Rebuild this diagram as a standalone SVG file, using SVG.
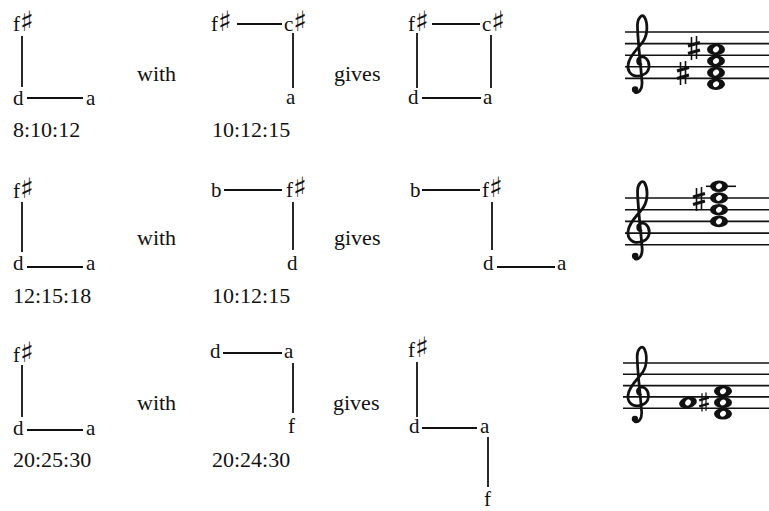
<svg xmlns="http://www.w3.org/2000/svg" xmlns:xlink="http://www.w3.org/1999/xlink" width="769" height="511" viewBox="0 0 769 511">
<style>
.n{font-family:"Liberation Serif","DejaVu Serif",serif;font-size:21px;fill:#111}
.s{font-family:"DejaVu Sans",sans-serif;font-size:28px;font-weight:bold;fill:#111}
.w{font-family:"Liberation Serif","DejaVu Serif",serif;font-size:22px;fill:#111}
.c line{stroke:#111;stroke-width:1.8}
.st line{stroke:#111;stroke-width:1.6}
</style>
<defs>
<g id="clef">
<path d="M12 28 C9 28 8 24 11 22 C15 20 19 24 19 29 C19 35 14 38 9 38 C3 38 0 33 1 28 C2 20 10 14 14 8 C18 2 18 -8 15 -13 C13 -16 9 -12 9 -6 C9 5 12 30 13 44 C13 50 10 53 7 52" fill="none" stroke="#111" stroke-width="2.4" stroke-linecap="round"/>
<circle cx="7" cy="49.5" r="2.8" fill="#111"/>
</g>
<g id="whole">
<ellipse cx="0" cy="0" rx="9" ry="5.8" fill="#111"/>
<ellipse cx="0" cy="0" rx="3.2" ry="2.6" transform="rotate(-40)" fill="#fff"/>
</g>
<g id="sharp">
<line x1="-2.5" y1="-11" x2="-2.5" y2="12" stroke="#111" stroke-width="1.6"/>
<line x1="2.5" y1="-12" x2="2.5" y2="11" stroke="#111" stroke-width="1.6"/>
<line x1="-6" y1="-2" x2="6" y2="-5.5" stroke="#111" stroke-width="3"/>
<line x1="-6" y1="5.5" x2="6" y2="2" stroke="#111" stroke-width="3"/>
</g>
</defs>
<rect width="769" height="511" fill="#fff"/>

<g id="connectors" class="c">
<!-- row 1 -->
<line x1="22" y1="36" x2="22" y2="87"/>
<line x1="27" y1="98" x2="83" y2="98"/>
<line x1="237" y1="24" x2="282" y2="24"/>
<line x1="293" y1="33" x2="293" y2="88"/>
<line x1="432" y1="24" x2="480" y2="24"/>
<line x1="417" y1="33" x2="417" y2="88"/>
<line x1="491" y1="35" x2="491" y2="88"/>
<line x1="422" y1="98" x2="481" y2="98"/>
<!-- row 2 -->
<line x1="22" y1="202" x2="22" y2="252"/>
<line x1="27" y1="267" x2="83" y2="267"/>
<line x1="224" y1="190" x2="282" y2="190"/>
<line x1="293" y1="202" x2="293" y2="250"/>
<line x1="422" y1="190" x2="480" y2="190"/>
<line x1="492" y1="202" x2="492" y2="250"/>
<line x1="497" y1="267" x2="555" y2="267"/>
<!-- row 3 -->
<line x1="22" y1="365" x2="22" y2="417"/>
<line x1="27" y1="430" x2="83" y2="430"/>
<line x1="223" y1="353" x2="282" y2="353"/>
<line x1="293" y1="363" x2="293" y2="413"/>
<line x1="417" y1="362" x2="417" y2="417"/>
<line x1="422" y1="428" x2="477" y2="428"/>
<line x1="488" y1="437" x2="488" y2="487"/>
</g>

<!-- row 1 nodes -->
<g id="r1a-fs"><text class="n" x="13" y="31">f<tspan class="s">♯</tspan></text></g>
<g id="r1a-d"><text class="n" x="13" y="105">d</text></g>
<g id="r1a-a"><text class="n" x="86" y="105">a</text></g>
<g id="r1-ratio1"><text class="w" x="13" y="137">8:10:12</text></g>
<g id="r1-with"><text class="w" x="137" y="81">with</text></g>
<g id="r1b-fs"><text class="n" x="211" y="31">f<tspan class="s">♯</tspan></text></g>
<g id="r1b-cs"><text class="n" x="284" y="31">c<tspan class="s">♯</tspan></text></g>
<g id="r1b-a"><text class="n" x="286" y="104">a</text></g>
<g id="r1-ratio2"><text class="w" x="212" y="137">10:12:15</text></g>
<g id="r1-gives"><text class="w" x="334" y="81">gives</text></g>
<g id="r1c-fs"><text class="n" x="408" y="31">f<tspan class="s">♯</tspan></text></g>
<g id="r1c-cs"><text class="n" x="482" y="31">c<tspan class="s">♯</tspan></text></g>
<g id="r1c-d"><text class="n" x="408" y="104">d</text></g>
<g id="r1c-a"><text class="n" x="483" y="104">a</text></g>

<!-- row 2 nodes -->
<g id="r2a-fs"><text class="n" x="13" y="198">f<tspan class="s">♯</tspan></text></g>
<g id="r2a-d"><text class="n" x="13" y="270">d</text></g>
<g id="r2a-a"><text class="n" x="86" y="270">a</text></g>
<g id="r2-ratio1"><text class="w" x="13" y="303">12:15:18</text></g>
<g id="r2-with"><text class="w" x="137" y="245">with</text></g>
<g id="r2b-b"><text class="n" x="211" y="197">b</text></g>
<g id="r2b-fs"><text class="n" x="286" y="197">f<tspan class="s">♯</tspan></text></g>
<g id="r2b-d"><text class="n" x="287" y="270">d</text></g>
<g id="r2-ratio2"><text class="w" x="212" y="303">10:12:15</text></g>
<g id="r2-gives"><text class="w" x="334" y="245">gives</text></g>
<g id="r2c-b"><text class="n" x="410" y="197">b</text></g>
<g id="r2c-fs"><text class="n" x="482" y="197">f<tspan class="s">♯</tspan></text></g>
<g id="r2c-d"><text class="n" x="483" y="270">d</text></g>
<g id="r2c-a"><text class="n" x="557" y="270">a</text></g>

<!-- row 3 nodes -->
<g id="r3a-fs"><text class="n" x="13" y="362">f<tspan class="s">♯</tspan></text></g>
<g id="r3a-d"><text class="n" x="13" y="435">d</text></g>
<g id="r3a-a"><text class="n" x="86" y="435">a</text></g>
<g id="r3-ratio1"><text class="w" x="13" y="467">20:25:30</text></g>
<g id="r3-with"><text class="w" x="137" y="410">with</text></g>
<g id="r3b-d"><text class="n" x="210" y="358">d</text></g>
<g id="r3b-a"><text class="n" x="284" y="358">a</text></g>
<g id="r3b-f"><text class="n" x="288" y="433">f</text></g>
<g id="r3-ratio2"><text class="w" x="212" y="467">20:24:30</text></g>
<g id="r3-gives"><text class="w" x="333" y="410">gives</text></g>
<g id="r3c-fs"><text class="n" x="408" y="357">f<tspan class="s">♯</tspan></text></g>
<g id="r3c-d"><text class="n" x="409" y="433">d</text></g>
<g id="r3c-a"><text class="n" x="480" y="433">a</text></g>
<g id="r3c-f"><text class="n" x="484" y="506">f</text></g>

<!-- staff 1 -->
<g id="staff1">
<g class="st">
<line x1="625" y1="32" x2="769" y2="32"/>
<line x1="625" y1="43.6" x2="769" y2="43.6"/>
<line x1="625" y1="55.2" x2="769" y2="55.2"/>
<line x1="625" y1="66.8" x2="769" y2="66.8"/>
<line x1="625" y1="78.4" x2="769" y2="78.4"/>
</g>
<use xlink:href="#clef" transform="translate(627 32) scale(1.16)"/>
<use xlink:href="#sharp" transform="translate(694 48)"/>
<use xlink:href="#sharp" transform="translate(683 73)"/>
<use xlink:href="#whole" x="716" y="49.4"/>
<use xlink:href="#whole" x="716" y="61"/>
<use xlink:href="#whole" x="716" y="72.6"/>
<use xlink:href="#whole" x="716" y="84.2"/>
</g>

<!-- staff 2 -->
<g id="staff2">
<g class="st">
<line x1="625" y1="198" x2="769" y2="198"/>
<line x1="625" y1="209.7" x2="769" y2="209.7"/>
<line x1="625" y1="221.4" x2="769" y2="221.4"/>
<line x1="625" y1="233.1" x2="769" y2="233.1"/>
<line x1="625" y1="244.8" x2="769" y2="244.8"/>
<line x1="706" y1="186.3" x2="736" y2="186.3"/>
</g>
<use xlink:href="#clef" transform="translate(627 198) scale(1.17)"/>
<use xlink:href="#sharp" transform="translate(699 199)"/>
<use xlink:href="#whole" x="719" y="186.3"/>
<use xlink:href="#whole" x="719" y="198"/>
<use xlink:href="#whole" x="719" y="209.7"/>
<use xlink:href="#whole" x="719" y="221.4"/>
</g>

<!-- staff 3 -->
<g id="staff3">
<g class="st">
<line x1="623" y1="363" x2="769" y2="363"/>
<line x1="623" y1="374.3" x2="769" y2="374.3"/>
<line x1="623" y1="385.6" x2="769" y2="385.6"/>
<line x1="623" y1="396.9" x2="769" y2="396.9"/>
<line x1="623" y1="408.2" x2="769" y2="408.2"/>
</g>
<use xlink:href="#clef" transform="translate(627 363) scale(1.13)"/>
<use xlink:href="#whole" transform="translate(688 402.5) rotate(-15)"/>
<use xlink:href="#sharp" transform="translate(704 402) scale(0.8)"/>
<use xlink:href="#whole" x="723" y="391.2"/>
<use xlink:href="#whole" x="723" y="402.5"/>
<use xlink:href="#whole" x="723" y="413.8"/>
</g>
</svg>
